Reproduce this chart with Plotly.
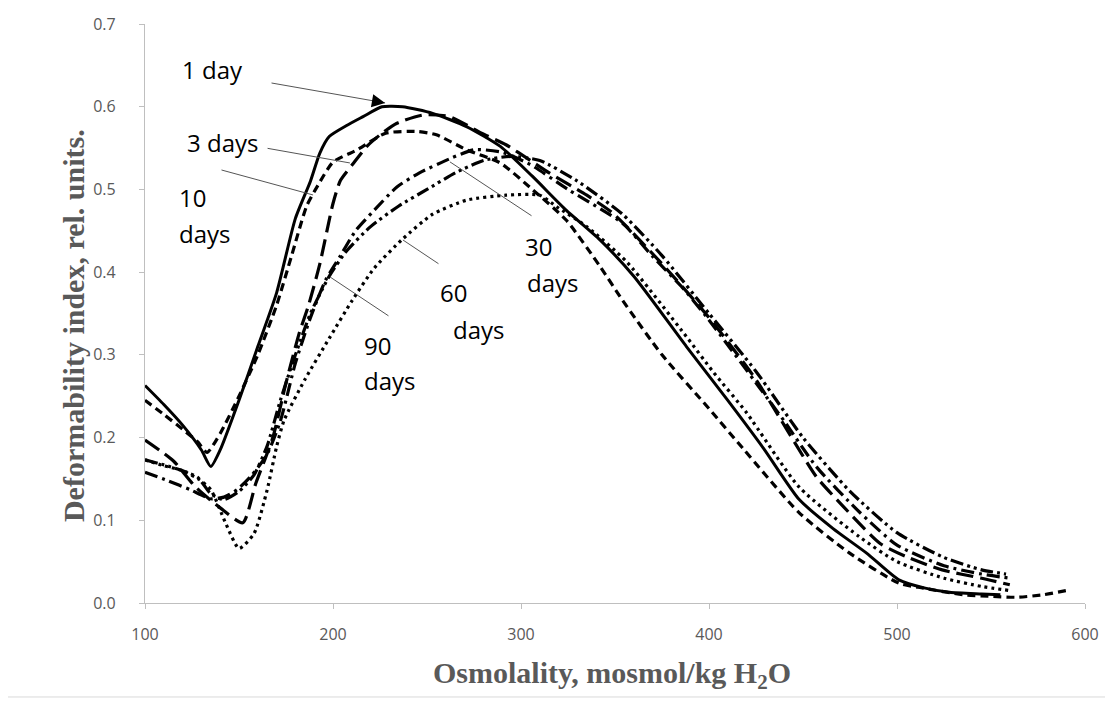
import plotly.graph_objects as go

# ---- data (osmolality, deformability index) ----
x_1d = [100, 110, 120, 130, 135, 140, 150, 160, 170, 180, 188, 193, 198, 207, 216, 226, 237, 253, 271, 289, 306, 324, 342, 360, 388, 410, 429, 448, 466, 484, 501, 515, 528, 545, 555]
y_1d = [0.263, 0.24, 0.215, 0.185, 0.165, 0.185, 0.245, 0.31, 0.375, 0.465, 0.51, 0.544, 0.564, 0.577, 0.588, 0.6, 0.6, 0.592, 0.576, 0.552, 0.516, 0.475, 0.439, 0.395, 0.31, 0.245, 0.187, 0.125, 0.09, 0.06, 0.028, 0.018, 0.013, 0.011, 0.01]

x_3d = [100, 115, 127, 140, 152, 159, 168, 175, 182, 187, 193, 200, 204, 211, 218, 225, 234, 248, 262, 279, 292, 305, 315, 335, 349, 375, 400, 425, 457, 468, 491, 505, 524, 545, 560]
y_3d = [0.197, 0.172, 0.14, 0.115, 0.097, 0.145, 0.2, 0.266, 0.326, 0.36, 0.41, 0.483, 0.511, 0.532, 0.552, 0.566, 0.58, 0.59, 0.588, 0.568, 0.554, 0.535, 0.52, 0.493, 0.471, 0.41, 0.345, 0.27, 0.153, 0.125, 0.072, 0.056, 0.04, 0.03, 0.022]

x_10d = [100, 110, 120, 128, 133, 140, 150, 160, 170, 178, 186, 192, 200, 213, 228, 245, 255, 271, 289, 306, 324, 342, 354, 375, 400, 418, 448, 475, 501, 514, 535, 550, 564, 578, 590]
y_10d = [0.245, 0.228, 0.21, 0.195, 0.182, 0.205, 0.25, 0.3, 0.36, 0.42, 0.48, 0.505, 0.533, 0.548, 0.568, 0.57, 0.566, 0.548, 0.532, 0.5, 0.463, 0.407, 0.366, 0.3, 0.235, 0.187, 0.109, 0.06, 0.024, 0.018, 0.01, 0.008, 0.007, 0.01, 0.015]

x_30d = [100, 112, 124, 135, 142, 149, 157, 165, 172, 180, 188, 196, 204, 212, 222, 234, 246, 262, 275, 290, 305, 325, 354, 370, 386, 399, 427, 440, 457, 480, 500, 525, 545, 560]
y_30d = [0.158, 0.148, 0.137, 0.126, 0.128, 0.137, 0.155, 0.18, 0.22, 0.29, 0.345, 0.39, 0.42, 0.45, 0.475, 0.503, 0.52, 0.537, 0.548, 0.545, 0.53, 0.5, 0.459, 0.419, 0.381, 0.345, 0.26, 0.22, 0.165, 0.11, 0.07, 0.045, 0.035, 0.03]

x_60d = [100, 110, 120, 129, 135, 143, 150, 158, 165, 170, 174, 185, 198, 210, 222, 237, 253, 271, 292, 310, 319, 335, 356, 388, 402, 420, 448, 480, 500, 525, 545, 560]
y_60d = [0.173, 0.166, 0.16, 0.149, 0.137, 0.096, 0.066, 0.084, 0.137, 0.189, 0.221, 0.27, 0.32, 0.365, 0.405, 0.44, 0.47, 0.487, 0.493, 0.493, 0.479, 0.455, 0.413, 0.322, 0.28, 0.23, 0.14, 0.08, 0.05, 0.03, 0.02, 0.015]

x_90d = [100, 110, 120, 128, 135, 142, 150, 158, 165, 172, 180, 188, 198, 207, 220, 235, 250, 265, 280, 295, 310, 330, 354, 375, 400, 425, 450, 475, 500, 525, 545, 558]
y_90d = [0.173, 0.167, 0.16, 0.152, 0.132, 0.125, 0.135, 0.155, 0.19, 0.245, 0.3, 0.35, 0.395, 0.425, 0.455, 0.48, 0.5, 0.52, 0.535, 0.54, 0.535, 0.51, 0.47, 0.42, 0.35, 0.28, 0.2, 0.135, 0.085, 0.055, 0.04, 0.035]

x_ticks = [100, 200, 300, 400, 500, 600]
y_ticks = [0.0, 0.1, 0.2, 0.3, 0.4, 0.5, 0.6, 0.7]

x_title = "<b>Osmolality, mosmol/kg H<sub>2</sub>O</b>"
y_title = "<b>Deformability index, rel. units.</b>"

series = [
    ("1 day", x_1d, y_1d, "solid", 3),
    ("3 days", x_3d, y_3d, "17px,7px", 3.2),
    ("10 days", x_10d, y_10d, "8px,5px", 3.2),
    ("30 days", x_30d, y_30d, "13px,5px,3px,5px", 3.2),
    ("60 days", x_60d, y_60d, "3px,4px", 3.2),
    ("90 days", x_90d, y_90d, "13px,4px,3px,4px,3px,4px", 3.2),
]

fig = go.Figure()
for name, xs, ys, dash, w in series:
    fig.add_trace(go.Scatter(
        x=xs, y=ys, mode="lines", name=name,
        line=dict(color="black", width=w, dash=dash, shape="spline", smoothing=0.6),
        showlegend=False, hoverinfo="skip"))

label_font = dict(family="Open Sans", size=24, color="black")

# text labels: (text, x, y)
labels = [
    ("1 day", 118.6, 0.6445),
    ("3 days", 121.3, 0.5562),
    ("10", 117.0, 0.4897),
    ("days", 117.0, 0.4462),
    ("30", 301.1, 0.4305),
    ("days", 302.1, 0.3869),
    ("60", 255.9, 0.3748),
    ("days", 262.8, 0.3301),
    ("90", 215.4, 0.3114),
    ("days", 215.4, 0.2684),
]
for t, lx, ly in labels:
    fig.add_annotation(x=lx, y=ly, text=t, showarrow=False, xanchor="left",
                       yanchor="middle", font=label_font)

# arrows: (tail_x, tail_y, tip_x, tip_y)
arrows = [
    (166.5, 0.629, 227.7, 0.6046),
    (164.4, 0.550, 209.0, 0.532),
    (139.9, 0.524, 189.4, 0.4933),
    (306.4, 0.467, 262.2, 0.5333),
    (256.9, 0.409, 237.2, 0.4389),
    (230.3, 0.346, 198.4, 0.3942),
]
for tx, ty, hx, hy in arrows:
    fig.add_annotation(x=hx, y=hy, ax=tx, ay=ty, axref="x", ayref="y",
                       text="", showarrow=True, arrowhead=0, arrowwidth=1,
                       arrowcolor="#555555")
    fig.add_annotation(x=hx, y=hy, ax=hx + (tx - hx) * 0.05, ay=hy + (ty - hy) * 0.05,
                       axref="x", ayref="y", text="", showarrow=True,
                       arrowhead=2, arrowsize=2.2, arrowwidth=1.2, arrowcolor="black")

fig.add_shape(type="rect", xref="paper", yref="paper",
              x0=-0.1468, x1=1.0223, y0=-0.1623, y1=1.0294,
              line=dict(color="#d9d9d9", width=1), fillcolor="rgba(0,0,0,0)", layer="below")

tick_font = dict(family="Open Sans", size=16, color="#595959")
title_font = dict(family="Liberation Serif", size=30, color="#595959")

# axis titles
fig.add_annotation(xref="paper", yref="paper", x=0.4968, y=-0.1244, text=x_title,
                   showarrow=False, xanchor="center", yanchor="middle", font=title_font)
fig.add_annotation(xref="paper", yref="paper", x=-0.0766, y=0.480, text=y_title,
                   showarrow=False, xanchor="center", yanchor="middle", textangle=-90,
                   font=title_font)

fig.update_layout(
    width=1105, height=696,
    margin=dict(l=137, r=28, t=16, b=101),
    paper_bgcolor="white", plot_bgcolor="white",
    xaxis=dict(range=[100, 600], tickvals=x_ticks, ticks="outside", ticklen=5,
               tickcolor="#bfbfbf", showline=True, linecolor="#bfbfbf", linewidth=1.3,
               showgrid=False, zeroline=False, tickfont=tick_font, ticklabelstandoff=12,
               automargin=False),
    yaxis=dict(range=[0, 0.7], tickvals=y_ticks, tickformat=".1f", ticks="outside", ticklen=5,
               tickcolor="#bfbfbf", showline=True, linecolor="#bfbfbf", linewidth=1.3,
               showgrid=False, zeroline=False, tickfont=tick_font, ticklabelstandoff=20,
               automargin=False),
)

fig.write_html("out.html")
